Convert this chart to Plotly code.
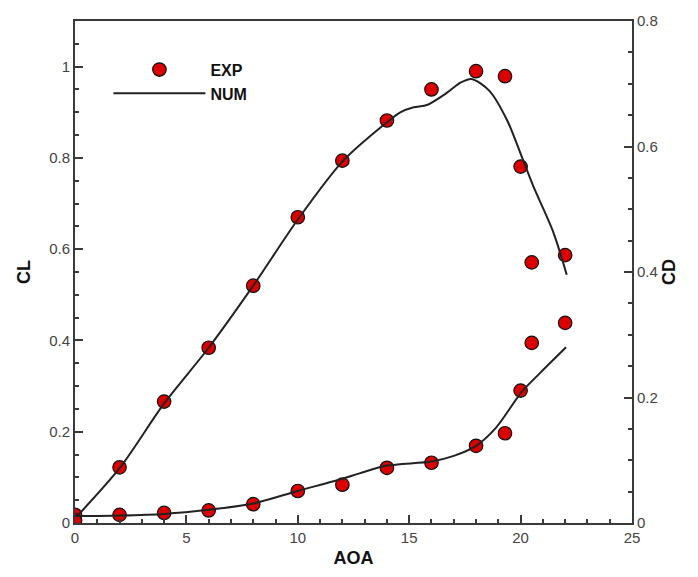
import plotly.graph_objects as go

# ---- data ----
EXP_AOA = [0, 2, 4, 6, 8, 10, 12, 14, 16, 18, 19.3, 20, 20.5, 22]
EXP_CL = [0.018, 0.122, 0.266, 0.384, 0.52, 0.67, 0.794, 0.882, 0.95, 0.99, 0.979, 0.781, 0.571, 0.587]
EXP_CD = [0.004, 0.013, 0.016, 0.02, 0.03, 0.051, 0.061, 0.088, 0.096, 0.123, 0.143, 0.211, 0.287, 0.319]

NUM_AOA_CL = [0, 2, 4, 6, 8, 10, 12, 14, 14.6, 15.2, 15.8, 16.7, 17.3, 17.8, 18.6, 19.4, 20.05, 20.57, 21.47, 22.07]
NUM_CL = [0.01, 0.12, 0.262, 0.384, 0.52, 0.665, 0.792, 0.878, 0.9, 0.911, 0.916, 0.943, 0.965, 0.973, 0.947, 0.882, 0.803, 0.738, 0.637, 0.544]

NUM_AOA_CD = [0, 2, 4, 6, 8, 10, 12, 12.8, 14, 16, 17, 18, 18.9, 20.05, 20.9, 22.04]
NUM_CD = [0.011, 0.012, 0.0145, 0.021, 0.031, 0.051, 0.0706, 0.0795, 0.0915, 0.098, 0.107, 0.123, 0.152, 0.209, 0.240, 0.280]

X_TICKS = [0, 5, 10, 15, 20, 25]
CL_TICKS = [0, 0.2, 0.4, 0.6, 0.8, 1]
CD_TICKS = [0, 0.2, 0.4, 0.6, 0.8]

RED = "rgb(220,0,0)"
LINE = "#222222"
AXIS = "#3a3a3a"
FONT = "Liberation Sans, Arial, sans-serif"

marker = dict(size=13.5, color=RED, line=dict(color="#111111", width=1.2))

fig = go.Figure()
fig.add_trace(go.Scatter(x=EXP_AOA, y=EXP_CL, mode="markers", name="EXP", marker=marker))
fig.add_trace(go.Scatter(x=NUM_AOA_CL, y=NUM_CL, mode="lines", name="NUM",
                         line=dict(color=LINE, width=2, shape="spline", smoothing=0.8)))
fig.add_trace(go.Scatter(x=EXP_AOA, y=EXP_CD, mode="markers", name="EXP", marker=marker,
                         yaxis="y2", showlegend=False))
fig.add_trace(go.Scatter(x=NUM_AOA_CD, y=NUM_CD, mode="lines", name="NUM",
                         line=dict(color=LINE, width=2, shape="spline", smoothing=0.8),
                         yaxis="y2", showlegend=False))

tickfont = dict(family=FONT, size=15, color="#444444")
titlefont = dict(family=FONT, size=18, color="#111111", weight="bold")

fig.update_layout(
    width=698, height=577,
    margin=dict(l=75, r=66, t=15, b=52),
    paper_bgcolor="white", plot_bgcolor="white",
    showlegend=True,
    legend=dict(x=0.06, y=0.937, xanchor="left", yanchor="top",
                bgcolor="rgba(0,0,0,0)", itemwidth=92,
                font=dict(family=FONT, size=16, color="#111111", weight="bold"),
                tracegroupgap=0),
    xaxis=dict(range=[0, 25], tickvals=X_TICKS, ticks="inside", ticklen=8, tickwidth=2,
               tickcolor=AXIS, showline=True, linecolor=AXIS, linewidth=2, mirror=True,
               showgrid=False, zeroline=False, tickfont=tickfont,
               title=dict(text="AOA", font=titlefont, standoff=6),
               minor=dict(dtick=1, ticks="inside", ticklen=4, tickcolor=AXIS, showgrid=False)),
    yaxis=dict(range=[0, 1.1], tickvals=CL_TICKS, ticks="inside", ticklen=8, tickwidth=2,
               tickcolor=AXIS, showline=True, linecolor=AXIS, linewidth=2,
               showgrid=False, zeroline=False, tickfont=tickfont,
               title=dict(text="CL", font=titlefont, standoff=14),
               minor=dict(dtick=0.05, ticks="inside", ticklen=4, tickcolor=AXIS, showgrid=False)),
    yaxis2=dict(range=[0, 0.8], tickvals=CD_TICKS, overlaying="y", side="right",
                ticks="inside", ticklen=8, tickwidth=2, tickcolor=AXIS,
                showline=True, linecolor=AXIS, linewidth=2,
                showgrid=False, zeroline=False, tickfont=tickfont,
                title=dict(text="CD", font=titlefont, standoff=6),
                minor=dict(dtick=0.05, ticks="inside", ticklen=4, tickcolor=AXIS, showgrid=False)),
)

fig.write_html("out.html")
